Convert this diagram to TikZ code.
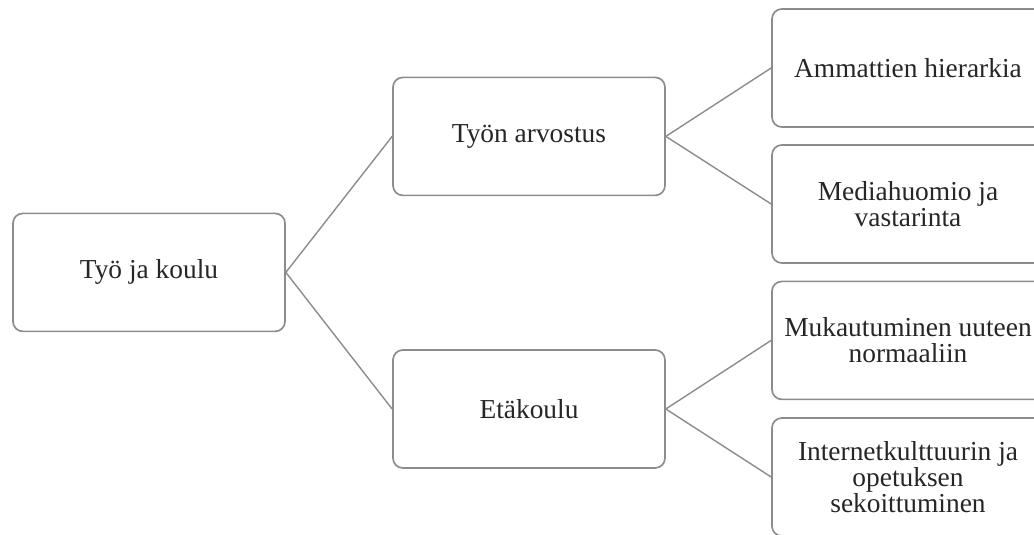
\documentclass[tikz,border=0pt]{standalone}
\usepackage{fontspec}
\setmainfont{Liberation Serif}
\usepackage{tikz}
\definecolor{boxgray}{HTML}{8C8C8C}
\definecolor{bodytext}{HTML}{262626}

\begin{document}
\begin{tikzpicture}[
    every node/.style={font=\fontsize{19.5}{18.5}\selectfont, text=bodytext},
    topic/.style={
        rectangle,
        rounded corners=7pt,
        minimum width=6.8cm,
        minimum height=2.95cm,
        draw=boxgray,
        line width=1.2pt,
        fill=white,
        align=center
    },
    link/.style={
        draw=boxgray,
        line width=1pt
    }
]
    % === CANVAS ===
    \useasboundingbox (0,0) rectangle (25.85,-13.375);
    \clip (0,0) rectangle (25.85,-13.375);

    % === ROOT ===
    \node[topic] (tyokoulu) at (3.725,-6.81) {Työ ja koulu};

    % === SECOND LEVEL ===
    \node[topic] (arvostus) at (13.225,-3.41) {Työn arvostus};
    \node[topic] (etakoulu) at (13.225,-10.225) {Etäkoulu};

    % === THIRD LEVEL ===
    \node[topic] (hierarkia) at (22.7,-1.7) {Ammattien hierarkia};
    \node[topic] (mediahuomio) at (22.7,-5.1) {Mediahuomio ja\\vastarinta};
    \node[topic] (mukautuminen) at (22.7,-8.51) {Mukautuminen uuteen\\normaaliin};
    \node[topic] (internet) at (22.7,-11.925) {Internetkulttuurin ja\\opetuksen\\sekoittuminen};

    % Connectors
    \foreach \child in {arvostus, etakoulu} {
        \draw[link] (tyokoulu.east) -- (\child.west);
    }
    \foreach \child in {hierarkia, mediahuomio} {
        \draw[link] (arvostus.east) -- (\child.west);
    }
    \foreach \child in {mukautuminen, internet} {
        \draw[link] (etakoulu.east) -- (\child.west);
    }
\end{tikzpicture}
\end{document}
